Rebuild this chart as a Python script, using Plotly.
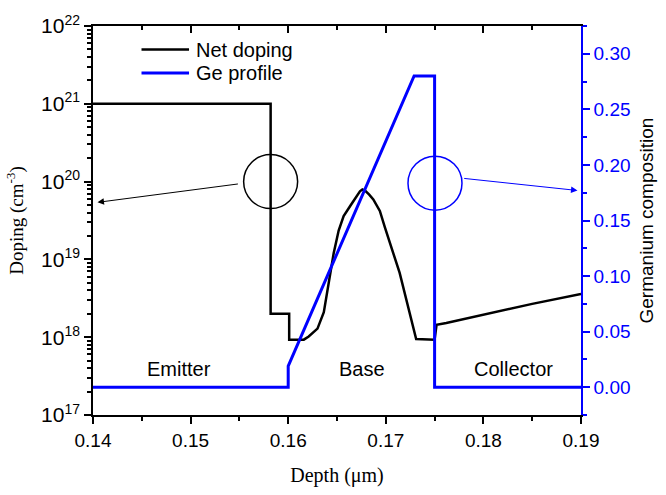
import math
import plotly.graph_objects as go

# ---------------- data ----------------
depth_doping = [0.14, 0.1582, 0.1582, 0.1601, 0.1601, 0.1616, 0.1621, 0.1630, 0.16365, 0.16416,
                0.16466, 0.16517, 0.16568, 0.16635, 0.16703, 0.16735, 0.16760, 0.16790,
                0.16830, 0.16872, 0.16939, 0.16990, 0.17142, 0.17278, 0.17311, 0.1750,
                0.1752, 0.1762, 0.1800, 0.1850, 0.1900]
net_doping = [1e21, 1e21, 2.0e18, 2.0e18, 9.3e17, 9.3e17, 1.02e18, 1.29e18, 2.1e18, 5.0e18,
              1.2e19, 2.35e19, 3.6e19, 4.85e19, 6.6e19, 7.5e19, 7.9e19, 7.6e19,
              6.8e19, 5.9e19, 4.2e19, 2.6e19, 6.7e18, 1.29e18, 9.5e17, 9.3e17,
              1.44e18, 1.52e18, 1.95e18, 2.68e18, 3.6e18]

depth_ge = [0.14, 0.1600, 0.1600, 0.1729, 0.1750, 0.1750, 0.19]
ge_comp = [0.0, 0.0, 0.019, 0.28, 0.28, 0.0, 0.0]

x_ticks = [0.14, 0.15, 0.16, 0.17, 0.18, 0.19]
x_ticktext = ["0.14", "0.15", "0.16", "0.17", "0.18", "0.19"]
y_exps = [17, 18, 19, 20, 21, 22]
ge_ticks = [0.00, 0.05, 0.10, 0.15, 0.20, 0.25, 0.30]

series_names = ["Net doping", "Ge profile"]
region_names = ["Emitter", "Base", "Collector"]
region_x = [0.14877, 0.16754, 0.1831]
region_ge = [0.0168, 0.0168, 0.0168]

# annotation circles / arrows (data space)
black_circle = dict(x=0.1582, doping=1e20)
black_arrow = dict(x0=0.15500, logy0=19.972, x1=0.14046, logy1=19.733)
blue_circle = dict(x=0.17504, ge=0.1836)
blue_arrow = dict(x0=0.17788, ge0=0.188, x1=0.18964, ge1=0.177)

Y_LOG_RANGE = [17, 22]

SANS = "Liberation Sans, Arial, sans-serif"
SERIF = "Liberation Serif, Times New Roman, serif"
BLUE = "#0000ff"
COLORS = ["black", BLUE]

fig = go.Figure()
fig.add_trace(go.Scatter(x=depth_doping, y=net_doping, mode="lines", name=series_names[0],
                         line=dict(color="black", width=2.5), yaxis="y", showlegend=False))
fig.add_trace(go.Scatter(x=depth_ge, y=ge_comp, mode="lines", name=series_names[1],
                         line=dict(color=BLUE, width=3), yaxis="y2", showlegend=False))
# dummy trace for top mirror axis
fig.add_trace(go.Scatter(x=[0.14], y=[0], xaxis="x2", yaxis="y2", mode="markers",
                         marker=dict(opacity=0), showlegend=False, hoverinfo="skip"))

minor_vals = [float(k) * 10.0 ** e for e in range(17, 22) for k in range(2, 10)]

fig.update_layout(
    width=666, height=495,
    margin=dict(l=93, r=80, t=18, b=80),
    paper_bgcolor="white", plot_bgcolor="white",
    showlegend=False,
    xaxis=dict(range=[0.14, 0.19], tickmode="array", tickvals=x_ticks, ticktext=x_ticktext,
               ticks="outside", ticklen=7, tickwidth=1.5, tickcolor="black",
               showline=True, linecolor="black", linewidth=1.5, showgrid=False, zeroline=False,
               minor=dict(dtick=0.005, tick0=0.14, ticks="outside", ticklen=4, tickwidth=1.5,
                          tickcolor="black", showgrid=False),
               tickfont=dict(family=SANS, size=19, color="black"),
               title=dict(text="Depth (μm)", font=dict(family=SERIF, size=20, color="black"),
                          standoff=18)),
    xaxis2=dict(range=[0.14, 0.19], overlaying="x", side="top", anchor="y",
                tickmode="array", tickvals=x_ticks, showticklabels=False,
                ticks="inside", ticklen=7, tickwidth=1.5, tickcolor="black",
                showline=True, linecolor="black", linewidth=1.5, showgrid=False, zeroline=False,
                minor=dict(dtick=0.005, tick0=0.14, ticks="inside", ticklen=4, tickwidth=1.5,
                           tickcolor="black", showgrid=False)),
    yaxis=dict(type="log", range=Y_LOG_RANGE, tickmode="array",
               tickvals=[10.0 ** e for e in y_exps],
               ticktext=["10<sup><span style='font-size:14px'>%d</span></sup>" % e for e in y_exps],
               ticks="outside", ticklen=7, tickwidth=1.5, tickcolor="black",
               showline=True, linecolor="black", linewidth=1.5, showgrid=False, zeroline=False,
               minor=dict(tickvals=minor_vals, ticks="outside", ticklen=4, tickwidth=1.5,
                          tickcolor="black", showgrid=False),
               tickfont=dict(family=SANS, size=21, color="black"),
               title=dict(text="Doping (cm<sup>-3</sup>)", font=dict(family=SERIF, size=19, color="black"),
                          standoff=12)),
    yaxis2=dict(overlaying="y", side="right", anchor="x", range=[-0.025, 0.325],
                tickmode="array", tickvals=ge_ticks, ticktext=["%.2f" % v for v in ge_ticks],
                ticks="outside", ticklen=7, tickwidth=1.5, tickcolor=BLUE,
                showline=True, linecolor=BLUE, linewidth=1.5, showgrid=False, zeroline=False,
                minor=dict(dtick=0.025, tick0=0.0, ticks="outside", ticklen=4, tickwidth=1.5,
                           tickcolor=BLUE, showgrid=False),
                tickfont=dict(family=SANS, size=19, color=BLUE),
                title=dict(text="Germanium composition", font=dict(family=SANS, size=19, color="black"),
                           standoff=10)),
)

# custom legend (paper coordinates)
legend_y = [0.9395, 0.879]
for name, col, ly in zip(series_names, COLORS, legend_y):
    fig.add_shape(type="line", xref="paper", yref="paper", x0=0.0994, x1=0.1968, y0=ly, y1=ly,
                  line=dict(color=col, width=2.5 if col == "black" else 3))
    fig.add_annotation(x=0.2069, y=ly, xref="paper", yref="paper", text=name, showarrow=False,
                       xanchor="left", yanchor="middle",
                       font=dict(family=SANS, size=20, color="black"))

# region labels
for name, xv, gv in zip(region_names, region_x, region_ge):
    fig.add_annotation(x=xv, y=gv, xref="x", yref="y2", text=name, showarrow=False,
                       font=dict(family=SANS, size=20, color="black"))

# circles
black_circle_paper_y = (math.log10(black_circle["doping"]) - Y_LOG_RANGE[0]) / (Y_LOG_RANGE[1] - Y_LOG_RANGE[0])
fig.add_shape(type="circle", xref="x", yref="paper", xsizemode="pixel", ysizemode="pixel",
              xanchor=black_circle["x"], yanchor=black_circle_paper_y,
              x0=-27, x1=27, y0=-27, y1=27, line=dict(color="black", width=1.5))
fig.add_shape(type="circle", xref="x", yref="y2", xsizemode="pixel", ysizemode="pixel",
              xanchor=blue_circle["x"], yanchor=blue_circle["ge"],
              x0=-27, x1=27, y0=-27, y1=27, line=dict(color=BLUE, width=1.5))

# arrows
fig.add_annotation(x=black_arrow["x1"], y=black_arrow["logy1"], xref="x", yref="y",
                   ax=black_arrow["x0"], ay=black_arrow["logy0"], axref="x", ayref="y",
                   showarrow=True, arrowhead=2, arrowsize=1.3, arrowwidth=1, arrowcolor="black", text="")
fig.add_annotation(x=blue_arrow["x1"], y=blue_arrow["ge1"], xref="x", yref="y2",
                   ax=blue_arrow["x0"], ay=blue_arrow["ge0"], axref="x", ayref="y2",
                   showarrow=True, arrowhead=2, arrowsize=1.3, arrowwidth=1, arrowcolor=BLUE, text="")

fig.write_html("out.html")
